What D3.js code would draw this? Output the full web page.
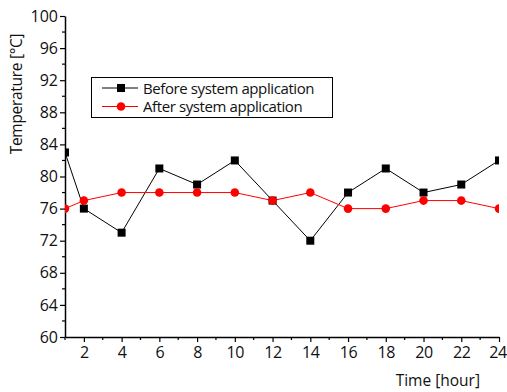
<!DOCTYPE html>
<html><head><meta charset="utf-8">
<script src="https://cdn.jsdelivr.net/npm/d3@7"></script>
<style>body{margin:0;background:#fff}svg{display:block;font-family:"Open Sans",sans-serif}</style>
</head><body><svg id="c" width="507" height="392"></svg>
<script>
const hours = [1,2,4,6,8,10,12,14,16,18,20,22,24];
const before = [83,76,73,81,79,82,77,72,78,81,78,79,82];
const after = [76,77,78,78,78,78,77,78,76,76,77,77,76];
const xTicks = [2,4,6,8,10,12,14,16,18,20,22,24];
const yTicks = [60,64,68,72,76,80,84,88,92,96,100];
const seriesNames = ["Before system application","After system application"];

const svg = d3.select("#c");
const L=65,R=499,T=16,B=337;
const x = d3.scaleLinear().domain([1,24]).range([L,R]);
const y = d3.scaleLinear().domain([60,100]).range([B,T]);

svg.append("clipPath").attr("id","clip").append("rect").attr("x",L).attr("y",T).attr("width",R-L).attr("height",B-T);

const minorX = d3.range(1,25,2);
const minorY = d3.range(62,100,4);
svg.append("g").selectAll("line").data(minorX).join("line")
  .attr("x1",d=>x(d)).attr("x2",d=>x(d)).attr("y1",B).attr("y2",B+3).attr("stroke","#000").attr("stroke-width",1.2);
svg.append("g").selectAll("line").data(minorY).join("line")
  .attr("y1",d=>y(d)).attr("y2",d=>y(d)).attr("x1",L).attr("x2",L-3).attr("stroke","#000").attr("stroke-width",1.2);

const xa = svg.append("g").attr("transform",`translate(0,${B})`)
  .call(d3.axisBottom(x).tickValues(xTicks).tickSize(5).tickPadding(5).tickSizeOuter(0));
const ya = svg.append("g").attr("transform",`translate(${L},0)`)
  .call(d3.axisLeft(y).tickValues(yTicks).tickSize(5).tickPadding(2).tickSizeOuter(0));
[xa,ya].forEach(a=>{
  a.select(".domain").attr("stroke","#000").attr("stroke-width",1.5);
  a.selectAll(".tick line").attr("stroke","#000").attr("stroke-width",1.2);
  a.selectAll("text").attr("font-size",16).attr("fill","#111").attr("font-family","'Open Sans',sans-serif");
});
xa.selectAll(".tick text").attr("letter-spacing",-0.4).filter(d=>d===24).attr("dx",-1.5);

svg.append("text").attr("transform","translate(22,94) rotate(-90)").attr("text-anchor","middle")
  .attr("font-size",15.5).attr("letter-spacing",-0.3).attr("fill","#111").text("Temperature [°C]");
svg.append("text").attr("x",480).attr("y",386).attr("text-anchor","end")
  .attr("font-size",15.5).attr("fill","#111").text("Time [hour]");

const plot = svg.append("g").attr("clip-path","url(#clip)");
const line = d3.line().x((d,i)=>x(hours[i])).y(d=>y(d));
plot.append("path").attr("d",line(before)).attr("fill","none").attr("stroke","#000").attr("stroke-width",1);
plot.append("path").attr("d",line(after)).attr("fill","none").attr("stroke","#f00").attr("stroke-width",1);
plot.append("g").selectAll("rect").data(before).join("rect")
  .attr("x",(d,i)=>x(hours[i])-4).attr("y",d=>y(d)-4).attr("width",8).attr("height",8).attr("fill","#000");
plot.append("g").selectAll("circle").data(after).join("circle")
  .attr("cx",(d,i)=>x(hours[i])).attr("cy",d=>y(d)).attr("r",4.3).attr("fill","#f00");

const lg = svg.append("g");
lg.append("rect").attr("x",91.5).attr("y",77.5).attr("width",241).attr("height",40).attr("fill","#fff").attr("stroke","#000").attr("stroke-width",1);
const rows=[{c:"#000",yy:88,shape:"sq"},{c:"#f00",yy:106.5,shape:"ci"}];
rows.forEach((r,i)=>{
  lg.append("line").attr("x1",102).attr("x2",138).attr("y1",r.yy).attr("y2",r.yy).attr("stroke",r.c).attr("stroke-width",1);
  if(r.shape==="sq") lg.append("rect").attr("x",117).attr("y",r.yy-4).attr("width",8).attr("height",8).attr("fill",r.c);
  else lg.append("circle").attr("cx",121).attr("cy",r.yy).attr("r",4.3).attr("fill",r.c);
  lg.append("text").attr("x",143).attr("y",r.yy+5.5).attr("font-size",15).attr("letter-spacing",-0.4).attr("fill","#111").text(seriesNames[i]);
});
</script></body></html>
